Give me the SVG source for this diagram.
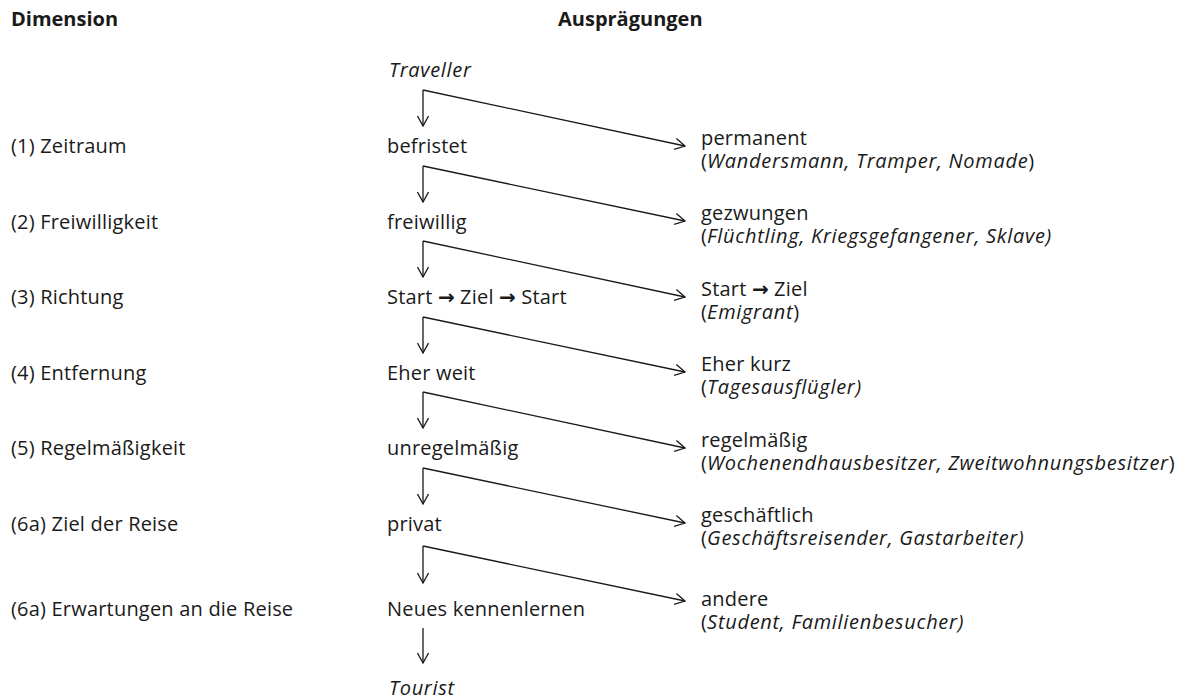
<svg xmlns="http://www.w3.org/2000/svg" width="1195" height="699" viewBox="0 0 1195 699">
  <defs>
    <style>
      text { font-family: "Open Sans", "Noto Sans", "DejaVu Sans", sans-serif; font-size: 20px; fill: #1a1a1a; letter-spacing: 0.2px; }
      .head { font-weight: 700; letter-spacing: 0; }
      .it { font-style: italic; letter-spacing: 0.7px; }
      .ar { font-family: "DejaVu Sans", sans-serif; font-weight: 700; font-size: 20px; letter-spacing: 0; }
      .link { fill: none; stroke: #1a1a1a; stroke-width: 1.3; marker-end: url(#open); }
    </style>
    <marker id="open" viewBox="0 0 12 12" refX="11" refY="6" markerWidth="12" markerHeight="12" markerUnits="userSpaceOnUse" orient="auto">
      <path d="M1,0.5 L11,6 L1,11.5" fill="none" stroke="#1a1a1a" stroke-width="1.3"/>
    </marker>
  </defs>
  <rect width="1195" height="699" fill="#ffffff"/>

  <!-- column headings -->
  <g id="headings">
    <text class="head" x="11" y="26">Dimension</text>
    <text class="head" x="558" y="26">Ausprägungen</text>
  </g>

  <!-- dimension labels -->
  <g id="dimensions">
    <text x="11" y="153">(1) Zeitraum</text>
    <text x="11" y="229">(2) Freiwilligkeit</text>
    <text x="11" y="304">(3) Richtung</text>
    <text x="11" y="380">(4) Entfernung</text>
    <text x="11" y="455">(5) Regelmäßigkeit</text>
    <text x="11" y="531">(6a) Ziel der Reise</text>
    <text x="11" y="616">(6a) Erwartungen an die Reise</text>
  </g>

  <!-- main path of characteristics -->
  <g id="traveller"><text class="it" x="389" y="77">Traveller</text></g>
  <g id="befristet"><text x="387" y="153">befristet</text></g>
  <g id="freiwillig"><text x="387" y="229">freiwillig</text></g>
  <g id="start-ziel-start"><text x="387" y="304">Start <tspan class="ar">→</tspan> Ziel <tspan class="ar">→</tspan> Start</text></g>
  <g id="eher-weit"><text x="387" y="380">Eher weit</text></g>
  <g id="unregelmaessig"><text x="387" y="455">unregelmäßig</text></g>
  <g id="privat"><text x="387" y="531">privat</text></g>
  <g id="neues-kennenlernen"><text x="387" y="616">Neues kennenlernen</text></g>
  <g id="tourist"><text class="it" x="389" y="695">Tourist</text></g>

  <!-- alternative characteristics, two lines each -->
  <g id="permanent">
    <text x="701" y="145">permanent<tspan x="701" dy="23">(</tspan><tspan class="it">Wandersmann, Tramper, Nomade</tspan>)</text>
  </g>
  <g id="gezwungen">
    <text x="701" y="220">gezwungen<tspan x="701" dy="23">(</tspan><tspan class="it">Flüchtling, Kriegsgefangener, Sklave)</tspan></text>
  </g>
  <g id="start-ziel">
    <text x="701" y="296">Start <tspan class="ar">→</tspan> Ziel<tspan x="701" dy="23">(</tspan><tspan class="it">Emigrant</tspan>)</text>
  </g>
  <g id="eher-kurz">
    <text x="701" y="371">Eher kurz<tspan x="701" dy="23">(</tspan><tspan class="it">Tagesausflügler)</tspan></text>
  </g>
  <g id="regelmaessig">
    <text x="701" y="447">regelmäßig<tspan x="701" dy="23">(</tspan><tspan class="it">Wochenendhausbesitzer, Zweitwohnungsbesitzer</tspan>)</text>
  </g>
  <g id="geschaeftlich">
    <text x="701" y="522">geschäftlich<tspan x="701" dy="23">(</tspan><tspan class="it">Geschäftsreisender, Gastarbeiter)</tspan></text>
  </g>
  <g id="andere">
    <text x="701" y="606">andere<tspan x="701" dy="23">(</tspan><tspan class="it">Student, Familienbesucher)</tspan></text>
  </g>

  <!-- connectors: down to the next step, across to the alternative -->
  <g id="connectors">
    <path class="link" d="M423,90 V126"/>
    <path class="link" d="M423,90 L685,146"/>
    <path class="link" d="M423,166 V202"/>
    <path class="link" d="M423,166 L685,221"/>
    <path class="link" d="M423,241 V277"/>
    <path class="link" d="M423,241 L685,297"/>
    <path class="link" d="M423,317 V353"/>
    <path class="link" d="M423,317 L685,372"/>
    <path class="link" d="M423,392 V428"/>
    <path class="link" d="M423,392 L685,448"/>
    <path class="link" d="M423,468 V504"/>
    <path class="link" d="M423,468 L685,523"/>
    <path class="link" d="M423,546 V583"/>
    <path class="link" d="M423,546 L685,601"/>
    <path class="link" d="M423,628 V663"/>
  </g>
</svg>
